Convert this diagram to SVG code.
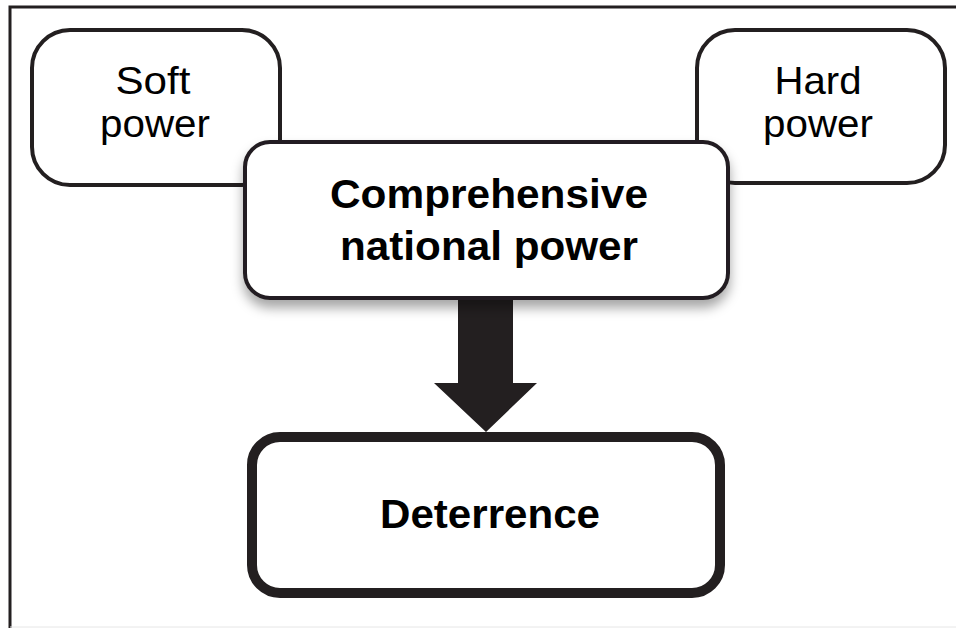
<svg xmlns="http://www.w3.org/2000/svg" width="956" height="628" viewBox="0 0 956 628">
<style>
.box{fill:#fff;stroke:#231f20;stroke-width:4}
.thick{stroke-width:10}
.reg{font-family:"Liberation Sans",Arial,sans-serif;font-size:39px;fill:#000;text-anchor:middle}
.bold{font-family:"Liberation Sans",Arial,sans-serif;font-size:40px;font-weight:bold;fill:#000;text-anchor:middle}
</style>
<defs>
<filter id="sh" x="-10%" y="-10%" width="120%" height="140%">
<feDropShadow dx="0" dy="8" stdDeviation="6" flood-color="#000" flood-opacity="0.35"/>
</filter>
</defs>
<rect width="956" height="628" fill="#fff"/>
<g id="frame" fill="none">
<path d="M10 628 V7 H956" stroke="#231f20" stroke-width="3"/>
<line x1="10" y1="627" x2="956" y2="627" stroke="#e6e6e6" stroke-width="1"/>
</g>
<g id="soft">
<rect class="box" x="32" y="30" width="248" height="155" rx="38"/>
<text class="reg" x="153" y="94" textLength="75" lengthAdjust="spacingAndGlyphs">Soft</text>
<text class="reg" x="155" y="137" textLength="110" lengthAdjust="spacingAndGlyphs">power</text>
</g>
<g id="hard">
<rect class="box" x="697" y="30" width="248" height="153" rx="38"/>
<text class="reg" x="818" y="94" textLength="87" lengthAdjust="spacingAndGlyphs">Hard</text>
<text class="reg" x="818" y="137" textLength="110" lengthAdjust="spacingAndGlyphs">power</text>
</g>
<g id="connectors">
<polygon points="458,298 513,298 513,383 537,383 486,432 434,383 458,383" fill="#231f20"/>
</g>
<g id="cnp">
<rect class="box" x="245" y="142" width="483" height="156" rx="25" filter="url(#sh)"/>
<text class="bold" x="489" y="208" textLength="318" lengthAdjust="spacingAndGlyphs">Comprehensive</text>
<text class="bold" x="489" y="260" textLength="298" lengthAdjust="spacingAndGlyphs">national power</text>
</g>
<g id="deterrence">
<rect class="box thick" x="252" y="437" width="468" height="156" rx="28"/>
<text class="bold" x="490" y="528" textLength="220" lengthAdjust="spacingAndGlyphs">Deterrence</text>
</g>
</svg>
